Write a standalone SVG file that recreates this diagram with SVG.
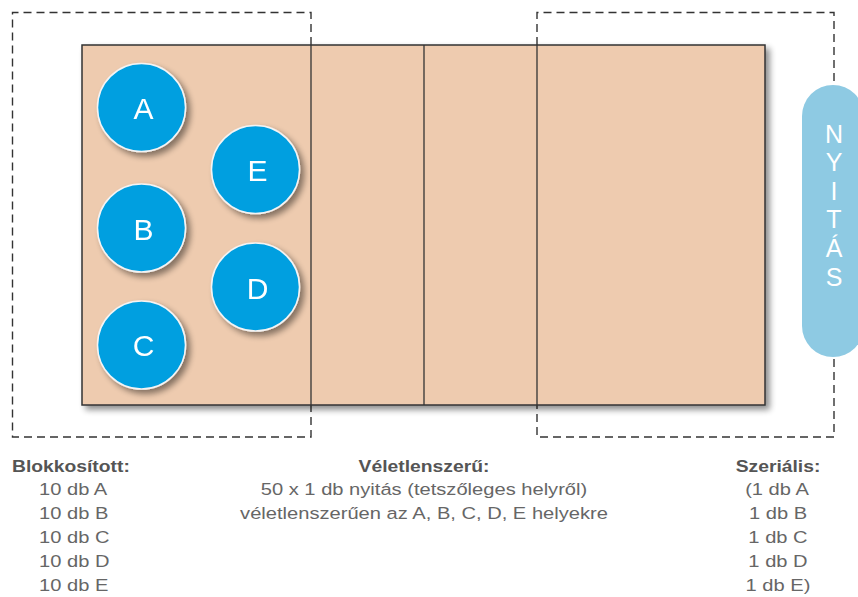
<svg xmlns="http://www.w3.org/2000/svg" width="858" height="597" viewBox="0 0 858 597">
  <defs>
    <filter id="shadow" x="-10%" y="-10%" width="130%" height="130%">
      <feGaussianBlur in="SourceAlpha" stdDeviation="3"/>
      <feOffset dx="4" dy="4" result="b"/>
      <feComponentTransfer><feFuncA type="linear" slope="0.45"/></feComponentTransfer>
      <feMerge><feMergeNode/><feMergeNode in="SourceGraphic"/></feMerge>
    </filter>
    <style>
      .dash { fill: none; stroke: #333; stroke-width: 1.4; stroke-dasharray: 8 5; }
      .court { fill: #eecbaf; stroke: #333; stroke-width: 1.5; }
      .div { stroke: #333; stroke-width: 1.3; }
      .pos circle { fill: #009fe0; stroke: #f4f4f4; stroke-width: 1.5; }
      .pos text { fill: #fff; font-family: "Liberation Sans", Arial, sans-serif; font-size: 30px; text-anchor: middle; }
      .pill { fill: #8ecae3; }
      .pilltxt { fill: #fff; font-family: "Liberation Sans", Arial, sans-serif; font-size: 25px; text-anchor: middle; }
      .hd { fill: #555; font-family: "Liberation Sans", Arial, sans-serif; font-size: 16.5px; font-weight: bold; }
      .tx { fill: #666; font-family: "Liberation Sans", Arial, sans-serif; font-size: 16.5px; }
      .mid { text-anchor: middle; }
    </style>
  </defs>

  <!-- dashed zones -->
  <g id="zones">
    <path class="dash" d="M311 45 V12.5 H12.5 V437 H311 V405"/>
    <path class="dash" d="M537 45 V12.5 H834 V437 H537 V405"/>
  </g>

  <!-- court -->
  <g id="court">
    <rect class="court" x="82" y="45" width="683" height="360" filter="url(#shadow)"/>
    <line class="div" x1="311" y1="45" x2="311" y2="405"/>
    <line class="div" x1="424" y1="45" x2="424" y2="405"/>
    <line class="div" x1="537" y1="45" x2="537" y2="405"/>
  </g>

  <!-- positions -->
  <g id="pos-A" class="pos" filter="url(#shadow)"><circle cx="141.5" cy="107.5" r="44"/><text x="143.5" y="119">A</text></g>
  <g id="pos-E" class="pos" filter="url(#shadow)"><circle cx="255.5" cy="169.5" r="44"/><text x="257.5" y="180.5">E</text></g>
  <g id="pos-B" class="pos" filter="url(#shadow)"><circle cx="141.5" cy="228" r="44"/><text x="143.5" y="239.5">B</text></g>
  <g id="pos-D" class="pos" filter="url(#shadow)"><circle cx="255.5" cy="287" r="44"/><text x="257.5" y="298.5">D</text></g>
  <g id="pos-C" class="pos" filter="url(#shadow)"><circle cx="141.5" cy="345" r="44"/><text x="143.5" y="356">C</text></g>

  <!-- serve tab -->
  <g id="nyitas">
    <rect class="pill" x="802" y="85" width="62" height="272" rx="31" ry="31"/>
    <text class="pilltxt" x="834" y="143">N</text>
    <text class="pilltxt" x="834" y="171">Y</text>
    <text class="pilltxt" x="834" y="200">I</text>
    <text class="pilltxt" x="834" y="228">T</text>
    <text class="pilltxt" x="834" y="257">Á</text>
    <text class="pilltxt" x="834" y="286">S</text>
  </g>

  <!-- legends (wide-set type: horizontally stretched) -->
  <g id="blokk">
    <text class="hd" transform="translate(12 472) scale(1.17 1)">Blokkosított:</text>
    <text class="tx" transform="translate(39 495) scale(1.22 1)">10 db A</text>
    <text class="tx" transform="translate(39 519) scale(1.22 1)">10 db B</text>
    <text class="tx" transform="translate(39 543) scale(1.22 1)">10 db C</text>
    <text class="tx" transform="translate(39 567) scale(1.22 1)">10 db D</text>
    <text class="tx" transform="translate(39 591) scale(1.22 1)">10 db E</text>
  </g>
  <g id="veletlen">
    <text class="hd mid" transform="translate(424 472) scale(1.17 1)">Véletlenszerű:</text>
    <text class="tx mid" transform="translate(424 495) scale(1.22 1)">50 x 1 db nyitás (tetszőleges helyről)</text>
    <text class="tx mid" transform="translate(424 519) scale(1.22 1)">véletlenszerűen az A, B, C, D, E helyekre</text>
  </g>
  <g id="szerialis">
    <text class="hd mid" transform="translate(778 472) scale(1.17 1)">Szeriális:</text>
    <text class="tx mid" transform="translate(777 495) scale(1.22 1)">(1 db A</text>
    <text class="tx mid" transform="translate(778 519) scale(1.22 1)">1 db B</text>
    <text class="tx mid" transform="translate(778 543) scale(1.22 1)">1 db C</text>
    <text class="tx mid" transform="translate(778 567) scale(1.22 1)">1 db D</text>
    <text class="tx mid" transform="translate(778 591) scale(1.22 1)">1 db E)</text>
  </g>
</svg>
